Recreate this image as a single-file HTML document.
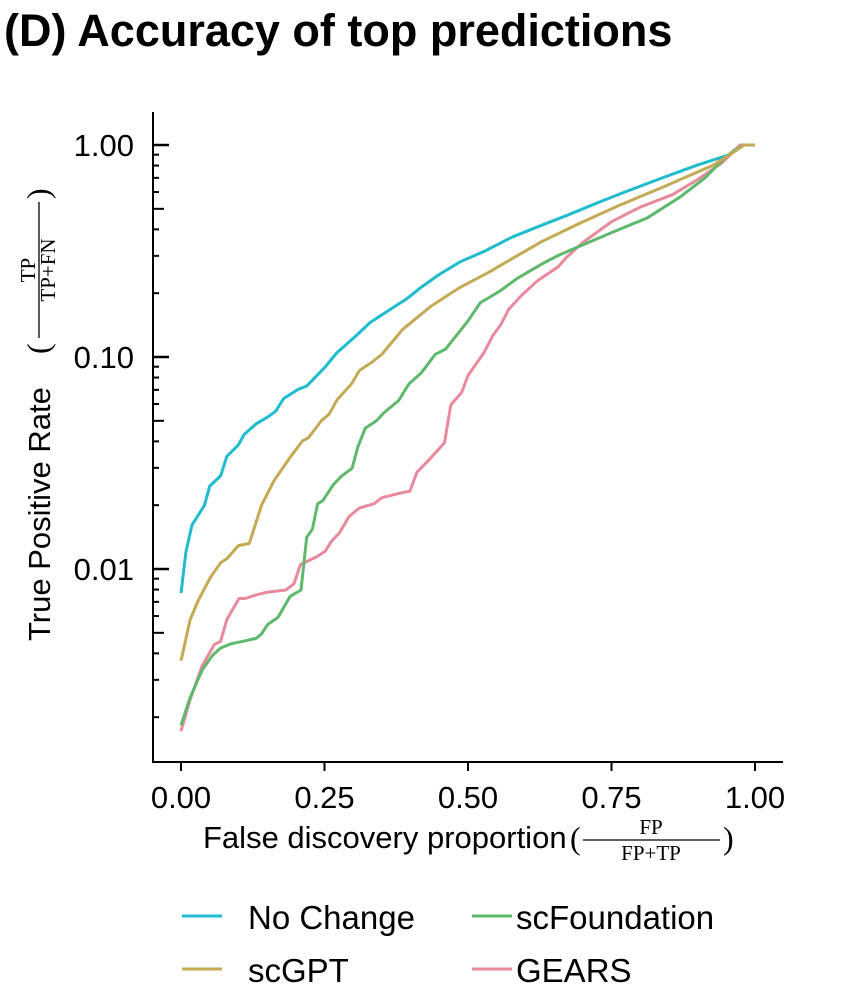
<!DOCTYPE html>
<html><head><meta charset="utf-8"><style>
html,body{margin:0;padding:0;background:#fff;}
svg{display:block;font-family:"Liberation Sans",sans-serif;}
</style></head><body>
<svg id="chart" width="861" height="1000" viewBox="0 0 861 1000">
<text x="4" y="46" font-size="45" font-weight="bold">(D) Accuracy of top predictions</text>
<g id="axes"></g>
<g id="series"></g>
<g transform="translate(50,440) rotate(-90)">
  <text x="-201" y="0" font-size="31">True Positive Rate</text>
  <text x="86" y="-1" font-size="32" font-family="Liberation Serif,serif">(</text>
  <text x="170" y="-15" font-size="21" font-family="Liberation Serif,serif" text-anchor="middle">TP</text>
  <line x1="102" x2="238" y1="-11" y2="-11" stroke="#000" stroke-width="1.3"/>
  <text x="170" y="5" font-size="21" font-family="Liberation Serif,serif" text-anchor="middle">TP+FN</text>
  <text x="241" y="-1" font-size="32" font-family="Liberation Serif,serif">)</text>
</g>
<g>
  <text x="203" y="848" font-size="31">False discovery proportion</text>
  <text x="570" y="849" font-size="32" font-family="Liberation Serif,serif">(</text>
  <text x="651" y="834" font-size="21" font-family="Liberation Serif,serif" text-anchor="middle">FP</text>
  <line x1="583" x2="720" y1="840" y2="840" stroke="#000" stroke-width="1.3"/>
  <text x="651" y="860" font-size="21" font-family="Liberation Serif,serif" text-anchor="middle">FP+TP</text>
  <text x="723" y="849" font-size="32" font-family="Liberation Serif,serif">)</text>
</g>
<g>
  <g><line x1="182" x2="222" y1="916" y2="916" stroke="#1fbccf" stroke-width="3"/><text x="248" y="929" font-size="33">No Change</text></g>
  <g><line x1="472" x2="512" y1="916" y2="916" stroke="#5eb96c" stroke-width="3"/><text x="516" y="929" font-size="33">scFoundation</text></g>
  <g><line x1="182" x2="222" y1="969" y2="969" stroke="#c4aa55" stroke-width="3"/><text x="248" y="982" font-size="33">scGPT</text></g>
  <g><line x1="472" x2="512" y1="969" y2="969" stroke="#e98a9c" stroke-width="3"/><text x="516" y="982" font-size="33">GEARS</text></g>
</g>
</svg>
<script>
const xTicks = [0, 0.25, 0.5, 0.75, 1];
const xTickLabels = ["0.00", "0.25", "0.50", "0.75", "1.00"];
const yTicks = [1, 0.1, 0.01];
const yTickLabels = ["1.00", "0.10", "0.01"];
const seriesNames = ["No Change", "scGPT", "scFoundation", "GEARS"];
const noChangeX = [0,.0085,.019,.041,.050,.069,.080,.100,.110,.131,.152,.165,.179,.204,.219,.251,.272,.301,.329,.365,.393,.418,.450,.486,.528,.578,.628,.671,.728,.771,.835,.899,.956,.981,.999];
const noChangeY = [.0077,.0120,.0161,.0200,.0246,.0275,.0340,.0385,.0431,.0484,.0523,.0555,.0637,.0703,.0730,.0896,.105,.123,.145,.168,.188,.213,.245,.281,.315,.369,.418,.464,.537,.597,.694,.803,.900,1,1];
const scgptX = [0,.016,.030,.051,.069,.080,.100,.119,.140,.162,.190,.212,.222,.244,.258,.272,.297,.311,.333,.350,.386,.436,.486,.536,.564,.628,.692,.764,.835,.877,.927,.956,.981,1];
const scgptY = [.00369,.00578,.0071,.00912,.0107,.0112,.0129,.0132,.0199,.0261,.0336,.0403,.0416,.0499,.0537,.0628,.0747,.0865,.0946,.103,.135,.174,.213,.251,.278,.350,.424,.520,.625,.700,.803,.900,1,1];
const scfX = [0,.016,.037,.055,.069,.087,.108,.131,.140,.151,.169,.190,.209,.219,.229,.238,.247,.265,.279,.298,.308,.321,.340,.354,.379,.397,.418,.443,.461,.500,.521,.557,.585,.628,.657,.699,.742,.813,.870,.913,.942,.963,.981,1];
const scfY = [.00183,.00248,.00334,.00392,.00424,.00444,.00456,.00471,.00493,.00547,.00591,.00743,.00796,.0141,.0154,.0203,.0210,.0249,.0273,.0299,.0376,.0462,.0499,.0547,.0622,.0747,.0838,.103,.109,.148,.180,.206,.234,.274,.301,.337,.378,.454,.570,.700,.841,.942,1,1];
const gearsX = [0,.016,.037,.058,.069,.080,.101,.112,.130,.151,.183,.197,.208,.236,.251,.262,.276,.293,.311,.336,.350,.382,.399,.411,.436,.459,.470,.489,.500,.528,.543,.557,.571,.593,.621,.657,.671,.699,.749,.799,.856,.899,.942,.974,1];
const gearsY = [.00172,.00243,.0035,.0044,.00456,.00578,.00726,.00726,.00753,.00778,.00796,.00853,.0105,.0114,.0121,.0135,.0148,.0177,.0194,.0203,.0217,.0228,.0233,.0286,.0336,.0394,.0594,.0681,.0818,.105,.126,.142,.168,.195,.229,.266,.294,.345,.433,.508,.583,.684,.822,1,1];

const NS = "http://www.w3.org/2000/svg";
const X0 = 181, X1 = 755, Y1 = 145, DEC = 212;
function sx(v){ return X0 + v*(X1-X0); }
function sy(v){ return Y1 - Math.log10(v)*DEC; }
const axes = document.getElementById("axes");
const series = document.getElementById("series");
function mk(tag, attrs, parent){ const e=document.createElementNS(NS,tag); for(const k in attrs) e.setAttribute(k,attrs[k]); parent.appendChild(e); return e; }

const yAxis = mk("line",{x1:153,x2:153,y1:112,y2:762,stroke:"#000","stroke-width":2},axes);


const xAxis = mk("line",{x1:152,x2:783,y1:762,y2:762,stroke:"#000","stroke-width":2},axes);



xTicks.forEach((t,i)=>{
  const tk = mk("line",{x1:sx(t),x2:sx(t),y1:762,y2:771,stroke:"#000","stroke-width":2},axes);
  
  
  const lb = mk("text",{x:sx(t),y:808,"font-size":31,"text-anchor":"middle"},axes);
  lb.textContent = xTickLabels[i];
  
  
});
yTicks.forEach((t,i)=>{
  const tk = mk("line",{x1:153,x2:169,y1:sy(t),y2:sy(t),stroke:"#000","stroke-width":2.5},axes);
  
  
  const lb = mk("text",{x:134,y:sy(t)+11,"font-size":31,"text-anchor":"end"},axes);
  lb.textContent = yTickLabels[i];
  
  
});
[0.1,0.01,0.001].forEach(d=>{
  for(let m=2;m<=9;m++){
    const v=d*m;
    if(v<0.0019) continue;
    const len = m===5?11:6;
    const tk = mk("line",{x1:153,x2:153+len,y1:sy(v),y2:sy(v),stroke:"#000","stroke-width":2},axes);
    
    
  }
});

const data = [[noChangeX,noChangeY,"#1fbccf","no-change-line"],[gearsX,gearsY,"#e98a9c","gears-line"],[scfX,scfY,"#5eb96c","scfoundation-line"],[scgptX,scgptY,"#c4aa55","scgpt-line"]];
data.forEach(([xs,ys,c,n])=>{
  const d = xs.map((x,i)=>(i?"L":"M")+sx(x).toFixed(1)+","+sy(ys[i]).toFixed(1)).join("");
  const p = mk("path",{d:d,fill:"none",stroke:c,"stroke-width":3,"stroke-linejoin":"round"},series);
  
  
});
</script>
</body></html>
